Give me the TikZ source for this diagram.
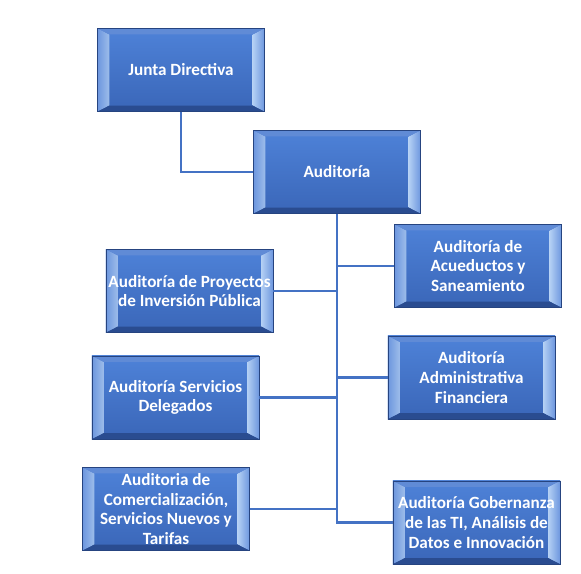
\documentclass[tikz,border=0pt]{standalone}
\usepackage{fontspec}
\setmainfont{Carlito}
\usetikzlibrary{calc,positioning}
\definecolor{ofblue}{RGB}{68,114,196}
\definecolor{oftop}{RGB}{78,130,216}
\definecolor{ofbot}{RGB}{58,102,184}
\definecolor{ofedge}{RGB}{38,68,128}
\definecolor{ofdark}{RGB}{42,76,144}
\definecolor{oflight}{RGB}{180,208,244}
\definecolor{ofmid}{RGB}{108,150,222}
\definecolor{oflink}{RGB}{68,114,196}

\begin{document}
\begin{tikzpicture}[x=0.025cm, y=-0.025cm,
    unit/.style={rectangle, minimum width=4.18cm, minimum height=2.08cm, inner sep=0pt,
      draw=ofedge, line width=0.4pt, top color=oftop, bottom color=ofbot,
      align=center, text=white, font=\fontsize{12.2}{14}\selectfont\bfseries,
      path picture={
        \coordinate (NW) at (path picture bounding box.north west);
        \coordinate (NE) at (path picture bounding box.north east);
        \coordinate (SE) at (path picture bounding box.south east);
        \coordinate (SW) at (path picture bounding box.south west);
        % bevel edges
        \shade[left color=ofmid, right color=oflight!80!ofblue]
          (NW) -- ($(NW)+(8.5pt,-4.3pt)$) -- ($(SW)+(8.5pt,4.3pt)$) -- (SW) -- cycle;
        \shade[left color=oflight, right color=ofmid]
          (NE) -- ($(NE)+(-8.5pt,-4.3pt)$) -- ($(SE)+(-8.5pt,4.3pt)$) -- (SE) -- cycle;
        \fill[ofmid!70!ofblue]
          (NW) -- ($(NW)+(8.5pt,-4.3pt)$) -- ($(NE)+(-8.5pt,-4.3pt)$) -- (NE) -- cycle;
        \fill[ofdark]
          (SW) -- ($(SW)+(8.5pt,4.3pt)$) -- ($(SE)+(-8.5pt,4.3pt)$) -- (SE) -- cycle;
      }},
    link/.style={oflink, line width=1.9pt}
  ]
    \useasboundingbox (0,0) rectangle (581,574);

    \node[unit] (junta) at (181,70)    {Junta Directiva};
    \node[unit] (aud)   at (337,172)   {Auditoría};

    % left column
    \node[unit] (proy)  at (189.5,291) {Auditoría de Proyectos\\de Inversión Pública};
    \node[unit] (dele)  at (175.5,397.5) {Auditoría Servicios\\Delegados};
    \node[unit] (come)  at (166,509)   {Auditoria de\\Comercialización,\\Servicios Nuevos y\\Tarifas};

    % right column
    \node[unit] (acue)  at (478,266)   {Auditoría de\\Acueductos y\\Saneamiento};
    \node[unit] (admi)  at (471.5,377.5) {Auditoría\\Administrativa\\Financiera};
    \node[unit] (gobe)  at (476.5,522.5) {Auditoría Gobernanza\\de las TI, Análisis de\\Datos e Innovación};

    \draw[link] (junta.south) |- (aud.west);
    \draw[link] (aud.south) |- (gobe.west);
    \draw[link] (aud.south |- acue.west) -- (acue.west);
    \draw[link] (aud.south |- admi.west) -- (admi.west);
    \draw[link] (proy.east) -- (proy.east -| aud.south);
    \draw[link] (dele.east) -- (dele.east -| aud.south);
    \draw[link] (come.east) -- (come.east -| aud.south);
  \end{tikzpicture}
\end{document}
